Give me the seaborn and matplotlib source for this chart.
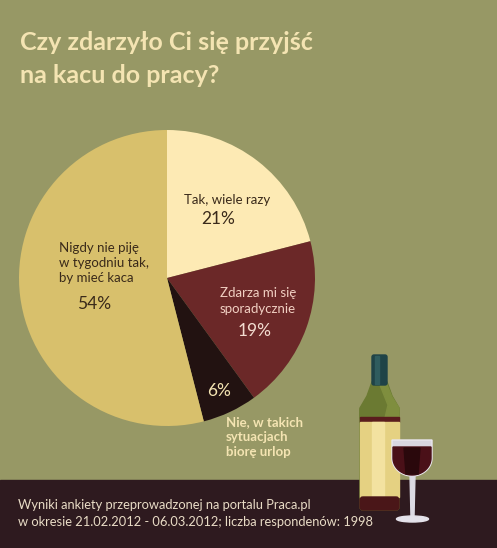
import matplotlib
matplotlib.use("Agg")
import matplotlib.pyplot as plt
import seaborn as sns
import numpy as np
from matplotlib.patches import Rectangle, Polygon, Ellipse, FancyBboxPatch

# ---- data ----
categories = ["Tak, wiele razy", "Zdarza mi się\nsporadycznie",
              "Nie, w takich\nsytuacjach\nbiorę urlop",
              "Nigdy nie piję\nw tygodniu tak,\nby mieć kaca"]
values = [21, 19, 6, 54]
pct_labels = ["21%", "19%", "6%", "54%"]
slice_colors = ["#fdeab4", "#6b2828", "#221211", "#d8c06c"]
title_lines = ["Czy zdarzyło Ci się przyjść", "na kacu do pracy?"]
footer_lines = ["Wyniki ankiety przeprowadzonej na portalu Praca.pl",
                "w okresie 21.02.2012 - 06.03.2012; liczba respondenów: 1998"]

BG = "#979865"
BAND = "#2e1a1f"
CREAM = "#f4e4b2"

sns.set_theme(style="white")
plt.rcParams["font.family"] = ["Lato", "DejaVu Sans"]

W, H = 497, 548
fig = plt.figure(figsize=(W / 100, H / 100), dpi=100)
fig.patch.set_facecolor(BG)

# background overlay axes (pixel coords, y down)
bg = fig.add_axes([0, 0, 1, 1])
bg.set_xlim(0, W)
bg.set_ylim(H, 0)
bg.axis("off")
bg.add_patch(Rectangle((0, 480), W, H - 480, color=BAND, zorder=1))

# title
for txt, yb in zip(title_lines, [50, 83]):
    bg.text(20, yb, txt, color=CREAM, fontsize=18, fontweight="bold",
            va="baseline", ha="left", zorder=3)
# footer
for txt, yb in zip(footer_lines, [509, 526]):
    bg.text(18, yb, txt, color="#e9dcc6", fontsize=9.3, va="baseline",
            ha="left", zorder=3)

# ---- bottle ----
bg.add_patch(FancyBboxPatch((360, 407), 39, 103, boxstyle="round,pad=0,rounding_size=3",
                            color="#6b7a32", zorder=2))
bg.add_patch(Polygon([[372, 382], [387, 382], [392, 396], [399, 408], [399, 418],
                      [360, 418], [360, 408], [367, 396]], closed=True,
                     color="#6b7a32", zorder=2))
bg.add_patch(Polygon([[380, 385], [387, 385], [392, 397], [399, 408], [399, 418],
                      [385, 418], [388, 405]], closed=True, color="#7f8e3e", zorder=2))
bg.add_patch(FancyBboxPatch((372, 355), 15, 30, boxstyle="round,pad=0,rounding_size=2",
                            color="#1f4347", zorder=3))
bg.add_patch(Rectangle((375, 356), 4, 28, color="#2f5c5e", zorder=3))
bg.add_patch(Rectangle((360, 417), 39, 5, color="#5a1d1d", zorder=3))
bg.add_patch(Rectangle((360, 422), 39, 75, color="#e5d182", zorder=3))
bg.add_patch(Rectangle((372, 422), 12, 75, color="#f3e2a0", zorder=3))
bg.add_patch(FancyBboxPatch((360, 497), 39, 13, boxstyle="round,pad=0,rounding_size=3",
                            color="#4a1618", zorder=3))

# ---- glass ----
t = np.linspace(0, np.pi, 40)
bowl_x = 412 + 20 * np.cos(t)
bowl_y = 458 + 18 * np.sin(t)
bg.add_patch(Polygon(np.column_stack([np.r_[432, bowl_x, 392], np.r_[440, bowl_y, 440]]),
                     closed=True, facecolor="#d9d6e0", edgecolor="#e9e7ee", lw=1, zorder=4))
wine_x = 412 + 19 * np.cos(t)
wine_y = 458 + 17 * np.sin(t)
bg.add_patch(Polygon(np.column_stack([np.r_[431, wine_x, 393], np.r_[447, wine_y, 447]]),
                     closed=True, color="#4a1018", zorder=5))
bg.add_patch(Polygon([[404, 448], [420, 448], [418, 474], [406, 474]], closed=True,
                     color="#2a080c", zorder=5))
bg.add_patch(Polygon([[410, 475], [415, 475], [414, 517], [411, 517]], closed=True,
                     color="#dcdae3", zorder=4))
bg.add_patch(Ellipse((412.5, 519), 32, 6, color="#e4e2ea", zorder=4))

# ---- pie ----
cx, cy, r = 167, 278, 148
ax = fig.add_axes([(cx - r) / W, (H - cy - r) / H, 2 * r / W, 2 * r / H])
ax.set_facecolor("none")
ax.pie(values, colors=slice_colors, startangle=90, counterclock=False,
       radius=1, wedgeprops=dict(linewidth=0))
ax.set_xlim(-1, 1)
ax.set_ylim(-1, 1)
ax.set_aspect("equal")
ax.axis("off")

def d(px, py):
    return (px - cx) / r, (cy - py) / r

fs = 9.5
pfs = 12.5
ax.text(*d(227, 200), categories[0], ha="center", va="center", fontsize=fs, color="#3a2a1a")
ax.text(*d(218, 219), pct_labels[0], ha="center", va="center", fontsize=pfs, color="#3a2a1a")
ax.text(*d(258, 301), categories[1], ha="center", va="center", fontsize=fs,
        color="#f1cfc2", linespacing=1.35)
ax.text(*d(255, 331), pct_labels[1], ha="center", va="center", fontsize=pfs, color="#f3dcd0")
ax.text(*d(219, 391), pct_labels[2], ha="center", va="center", fontsize=pfs, color="#f4e4b2")
ax.text(*d(226, 437), categories[2], ha="left", va="center", fontsize=fs,
        fontweight="bold", color=CREAM, linespacing=1.3)
ax.text(*d(59, 263), categories[3], ha="left", va="center", fontsize=fs,
        color="#3a2a1a", linespacing=1.35)
ax.text(*d(94, 304), pct_labels[3], ha="center", va="center", fontsize=pfs, color="#3a2a1a")

fig.savefig("out.png", dpi=100, facecolor=BG)
